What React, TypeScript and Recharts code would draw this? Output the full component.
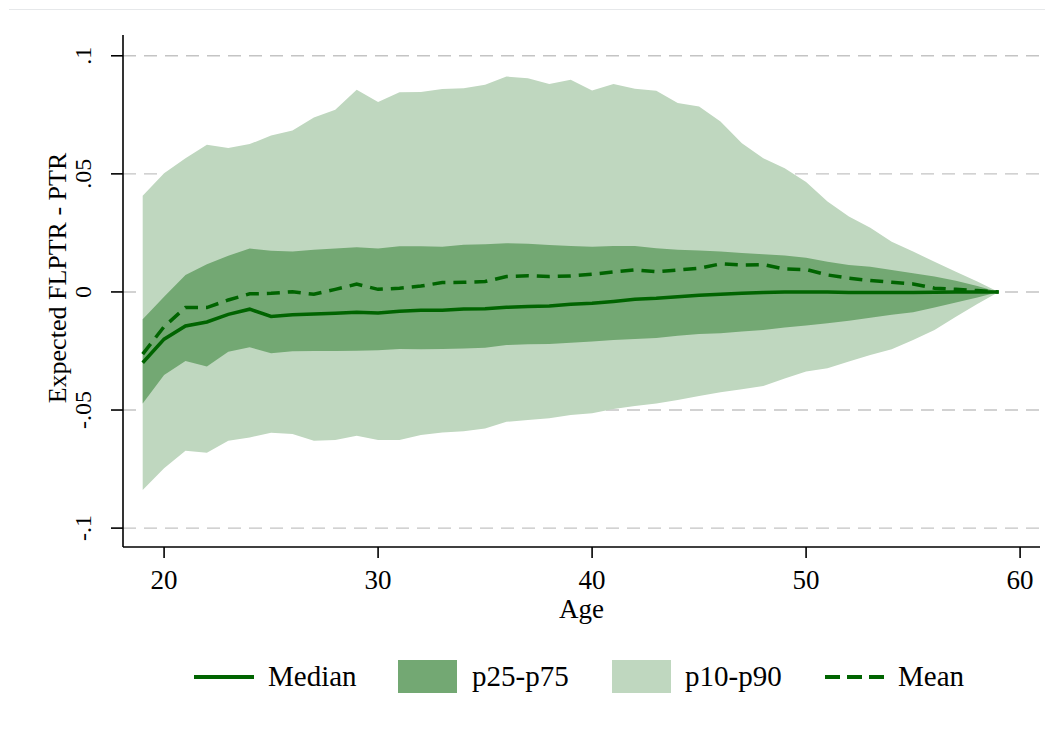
import React from "react";
import {
  ComposedChart,
  Area,
  Line,
  XAxis,
  YAxis,
  CartesianGrid,
  Legend,
  Label,
} from "recharts";

const ages = [
  19, 20, 21, 22, 23, 24, 25, 26, 27, 28, 29, 30, 31, 32, 33, 34, 35, 36, 37, 38,
  39, 40, 41, 42, 43, 44, 45, 46, 47, 48, 49, 50, 51, 52, 53, 54, 55, 56, 57, 58, 59,
];

const p90 = [
  0.0407, 0.0503, 0.0566, 0.0623, 0.0609, 0.0626, 0.0662, 0.0684, 0.0739, 0.0771,
  0.0856, 0.0804, 0.0846, 0.0847, 0.0859, 0.0863, 0.0877, 0.0912, 0.0905, 0.088,
  0.0898, 0.0853, 0.0881, 0.086, 0.0852, 0.08, 0.0785, 0.0722, 0.063, 0.0566,
  0.0524, 0.0466, 0.0383, 0.0319, 0.0272, 0.0213, 0.0171, 0.0128, 0.0086, 0.0044, 0,
];

const p75 = [
  -0.0116, -0.002, 0.0072, 0.0117, 0.0153, 0.0184, 0.0174, 0.0171, 0.0179, 0.0184,
  0.0189, 0.0184, 0.0194, 0.0194, 0.0191, 0.02, 0.0202, 0.0206, 0.0204, 0.0199,
  0.0195, 0.0191, 0.0195, 0.0195, 0.0185, 0.0179, 0.0175, 0.0171, 0.0165, 0.016,
  0.0154, 0.0145, 0.0128, 0.0114, 0.0107, 0.0093, 0.0079, 0.0065, 0.0047, 0.0025, 0,
];

const meanVals = [
  -0.0263, -0.0147, -0.0066, -0.0066, -0.0034, -0.0008, -0.0006, 0.0001, -0.001, 0.0011,
  0.0033, 0.0011, 0.0016, 0.0025, 0.004, 0.0041, 0.0044, 0.0065, 0.0069, 0.0065,
  0.0068, 0.0075, 0.0085, 0.0093, 0.0086, 0.0093, 0.01, 0.0119, 0.0114, 0.0116,
  0.0097, 0.0095, 0.0072, 0.0058, 0.0048, 0.0041, 0.0034, 0.0016, 0.0011, 0.0006, 0,
];

const medianVals = [
  -0.03, -0.02, -0.0144, -0.0127, -0.0095, -0.0073, -0.0104, -0.0097, -0.0093, -0.009,
  -0.0086, -0.0089, -0.0082, -0.0078, -0.0078, -0.0072, -0.0071, -0.0065, -0.0062, -0.0059,
  -0.0052, -0.0048, -0.004, -0.0031, -0.0027, -0.002, -0.0014, -0.001, -0.0006, -0.0002,
  0, 0, 0, -0.0002, -0.0002, -0.0002, -0.0002, -0.0001, 0, 0, 0,
];

const p25 = [
  -0.0472, -0.0352, -0.0292, -0.0316, -0.0253, -0.0234, -0.026, -0.0251, -0.025, -0.025,
  -0.0249, -0.0247, -0.0242, -0.0243, -0.0242, -0.0239, -0.0236, -0.0225, -0.0222, -0.022,
  -0.0215, -0.021, -0.0203, -0.0199, -0.0195, -0.0185, -0.0178, -0.0175, -0.0168, -0.0161,
  -0.0151, -0.0142, -0.0133, -0.0122, -0.0109, -0.0097, -0.0086, -0.0066, -0.0045, -0.0023, 0,
];

const p10 = [
  -0.0839, -0.0747, -0.0672, -0.0681, -0.063, -0.0616, -0.0596, -0.0602, -0.063, -0.0627,
  -0.0609, -0.0627, -0.0627, -0.0606, -0.0595, -0.059, -0.0578, -0.055, -0.0542, -0.0535,
  -0.0521, -0.0514, -0.0496, -0.0483, -0.0472, -0.0458, -0.0441, -0.0425, -0.0412, -0.0398,
  -0.0366, -0.0337, -0.0323, -0.0295, -0.0267, -0.0243, -0.0203, -0.0161, -0.0105, -0.0051, 0,
];

const xTicks = [20, 30, 40, 50, 60];
const yTicks = [-0.1, -0.05, 0, 0.05, 0.1];
const yTickLabels = ["-.1", "-.05", "0", ".05", ".1"];
const legendLabels = ["Median", "p25-p75", "p10-p90", "Mean"];
const xTitle = "Age";
const yTitle = "Expected FLPTR - PTR";

const data = ages.map((age, i) => ({
  age,
  band90: [p10[i], p90[i]],
  band75: [p25[i], p75[i]],
  median: medianVals[i],
  mean: meanVals[i],
}));

const FONT = '"Liberation Serif", "DejaVu Serif", "Times New Roman", serif';
const LINE = "#006400";
const DARK = "#73A873";
const LIGHT = "#BFD7BF";

const XTick = (props: any) => {
  const { x, y, payload } = props;
  return (
    <text x={x} y={y + 18} textAnchor="middle" fontFamily={FONT} fontSize={27} fill="#000">
      {payload.value}
    </text>
  );
};

const YTick = (props: any) => {
  const { x, y, payload } = props;
  const idx = yTicks.indexOf(payload.value);
  const label = idx >= 0 ? yTickLabels[idx] : String(payload.value);
  return (
    <g transform={`translate(${x},${y})`}>
      <text transform="rotate(-90)" textAnchor="middle" fontFamily={FONT} fontSize={24} fill="#000">
        {label}
      </text>
    </g>
  );
};

const YTitle = (props: any) => {
  const vb = props.viewBox || { x: 0, y: 0, width: 115, height: 512 };
  const cx = vb.x + 58;
  const cy = vb.y + vb.height / 2 - 13;
  return (
    <g transform={`translate(${cx},${cy})`}>
      <text transform="rotate(-90)" textAnchor="middle" fontFamily={FONT} fontSize={26} fill="#000">
        {yTitle}
      </text>
    </g>
  );
};

const XTitle = (props: any) => {
  const vb = props.viewBox || { x: 115, y: 539, width: 917, height: 100 };
  return (
    <text x={vb.x + vb.width / 2} y={vb.y + 71} textAnchor="middle" fontFamily={FONT} fontSize={27} fill="#000">
      {xTitle}
    </text>
  );
};

const LegendContent = () => {
  const cy = 30;
  const ty = 39;
  return (
    <svg width={1045} height={60} style={{ display: "block" }}>
      <line x1={186} x2={246} y1={cy} y2={cy} stroke={LINE} strokeWidth={4} />
      <text x={260} y={ty} fontFamily={FONT} fontSize={29} fill="#000">
        {legendLabels[0]}
      </text>
      <rect x={390} y={13} width={59} height={33} fill={DARK} />
      <text x={464} y={ty} fontFamily={FONT} fontSize={29} fill="#000">
        {legendLabels[1]}
      </text>
      <rect x={604} y={13} width={59} height={33} fill={LIGHT} />
      <text x={677} y={ty} fontFamily={FONT} fontSize={29} fill="#000">
        {legendLabels[2]}
      </text>
      <line x1={817} x2={877} y1={cy} y2={cy} stroke={LINE} strokeWidth={4} strokeDasharray="15 7" />
      <text x={890} y={ty} fontFamily={FONT} fontSize={29} fill="#000">
        {legendLabels[3]}
      </text>
    </svg>
  );
};

export default function App() {
  return (
    <div style={{ position: "relative", width: 1045, height: 720, background: "#fff" }}>
      <div
        style={{
          position: "absolute",
          top: 1,
          left: 1,
          width: 1044,
          height: 1,
          background: "#e6e8ea",
        }}
      />
      <ComposedChart
        width={1045}
        height={720}
        data={data}
        margin={{ top: 27, right: 13, left: 0, bottom: 21 }}
      >
        <CartesianGrid
          horizontal={true}
          vertical={false}
          stroke="#c4c4c4"
          strokeWidth={1.4}
          strokeDasharray="13 8"
          horizontalValues={yTicks}
        />
        <XAxis
          type="number"
          dataKey="age"
          domain={[18.08, 60.93]}
          ticks={xTicks}
          allowDataOverflow
          height={100}
          tickSize={11}
          tickMargin={13}
          tick={<XTick />}
          axisLine={{ stroke: "#000", strokeWidth: 1.6 }}
          tickLine={{ stroke: "#000", strokeWidth: 1.6 }}
        >
          <Label content={<XTitle />} />
        </XAxis>
        <YAxis
          type="number"
          domain={[-0.108, 0.1088]}
          ticks={yTicks}
          allowDataOverflow
          width={115}
          tickSize={12}
          tickMargin={20}
          tick={<YTick />}
          axisLine={{ stroke: "#000", strokeWidth: 1.6 }}
          tickLine={{ stroke: "#000", strokeWidth: 1.6 }}
        >
          <Label content={<YTitle />} />
        </YAxis>
        <Area
          type="linear"
          dataKey="band90"
          stroke="none"
          fill={LIGHT}
          fillOpacity={1}
          isAnimationActive={false}
          activeDot={false}
        />
        <Area
          type="linear"
          dataKey="band75"
          stroke="none"
          fill={DARK}
          fillOpacity={1}
          isAnimationActive={false}
          activeDot={false}
        />
        <Line
          type="linear"
          dataKey="median"
          stroke={LINE}
          strokeWidth={3.5}
          dot={false}
          activeDot={false}
          isAnimationActive={false}
        />
        <Line
          type="linear"
          dataKey="mean"
          stroke={LINE}
          strokeWidth={3.5}
          strokeDasharray="13 8"
          dot={false}
          activeDot={false}
          isAnimationActive={false}
        />
        <Legend
          verticalAlign="bottom"
          align="left"
          content={<LegendContent />}
          wrapperStyle={{ left: 0, width: 1045, height: 60 }}
        />
      </ComposedChart>
    </div>
  );
}
